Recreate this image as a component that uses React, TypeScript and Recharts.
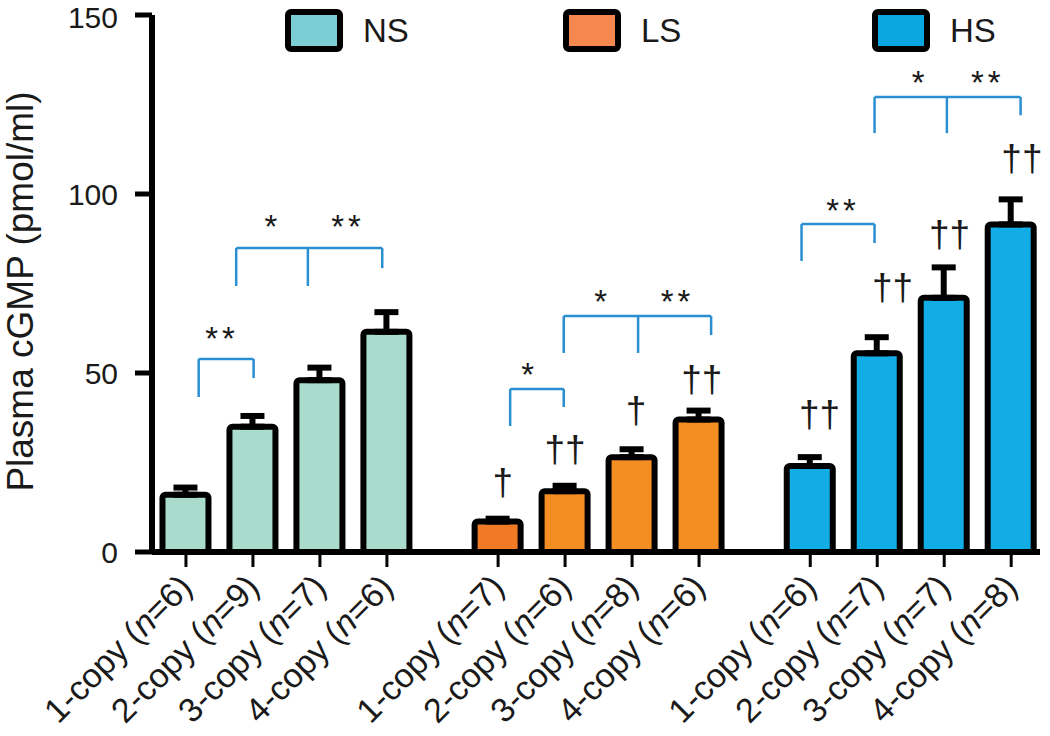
import React from 'react';
import { BarChart, Bar, XAxis, YAxis, ErrorBar, Cell, ReferenceLine, ReferenceDot } from 'recharts';

document.body.style.margin = '0';

const FONT = '"Liberation Sans", Arial, Helvetica, sans-serif';

const groups = ['NS', 'LS', 'HS'];
const copies = [1, 2, 3, 4];
const nsMeans = [16, 35, 48, 61.5];
const nsErrors = [2, 3, 3.5, 5.5];
const nsCounts = [6, 9, 7, 6];
const lsMeans = [8.5, 17, 26.5, 37];
const lsErrors = [0.8, 1.5, 2.2, 2.5];
const lsCounts = [7, 6, 8, 6];
const hsMeans = [24, 55.5, 71, 91.5];
const hsErrors = [2.5, 4.5, 8.5, 7];
const hsCounts = [6, 7, 7, 8];
const yTicks = [0, 50, 100, 150];

// significance brackets, in chart units (x = bar slot, y = pmol/ml)
const brackets = [
  { from: 0.19, to: 1.01, y: 53.9, leftEnd: 43.3, rightEnd: 48.6 },
  { from: 0.75, mid: 1.82, to: 2.93, y: 84.9, leftEnd: 74.3, rightEnd: 79.3 },
  { from: 4.84, to: 5.64, y: 45.5, leftEnd: 35.2, rightEnd: 40.5 },
  { from: 5.64, mid: 6.75, to: 7.84, y: 65.9, leftEnd: 55.6, rightEnd: 60.6 },
  { from: 9.19, to: 10.28, y: 91.6, leftEnd: 81.3, rightEnd: 86.3 },
  { from: 10.28, mid: 11.36, to: 12.46, y: 127.1, leftEnd: 117, rightEnd: 122 },
];
const stars = [
  { x: 0.54, y: 61.5, text: '**' },
  { x: 1.3, y: 92.7, text: '*' },
  { x: 2.42, y: 92.7, text: '**' },
  { x: 5.13, y: 51.4, text: '*' },
  { x: 6.22, y: 71.8, text: '*' },
  { x: 7.34, y: 71.8, text: '**' },
  { x: 9.81, y: 97.2, text: '**' },
  { x: 10.96, y: 133, text: '*' },
  { x: 11.97, y: 133, text: '**' },
];
const daggers = [
  { x: 4.73, y: 19.3, text: '†' },
  { x: 5.66, y: 28.5, text: '††' },
  { x: 6.72, y: 39.4, text: '†' },
  { x: 7.7, y: 48.3, text: '††' },
  { x: 9.46, y: 38.5, text: '††' },
  { x: 10.55, y: 74, text: '††' },
  { x: 11.4, y: 88.8, text: '††' },
  { x: 12.48, y: 109.8, text: '††' },
];

const GROUP_GAP = 0.66;
const barColors = [
  ['#a9dccd', '#a9dccd', '#a9dccd', '#a9dccd'],
  ['#f07a26', '#f58e22', '#f58e22', '#f58e22'],
  ['#12ade4', '#12ade4', '#12ade4', '#12ade4'],
];
const legendColors = ['#7bcdd6', '#f5874f', '#0aa6e2'];
const legendLeft = [285, 563, 872];
const bracketColor = '#2a8fd0';

const means = [nsMeans, lsMeans, hsMeans];
const errors = [nsErrors, lsErrors, hsErrors];
const counts = [nsCounts, lsCounts, hsCounts];

const rows = groups.flatMap((g, gi) =>
  copies.map((c, i) => ({
    pos: gi * (copies.length + GROUP_GAP) + i,
    group: g,
    copies: c,
    n: counts[gi][i],
    mean: means[gi][i],
    err: [0, errors[gi][i]],
    color: barColors[gi][i],
  }))
);

function CopyTick({ x, y, payload }: any) {
  const row = rows.find(r => Math.abs(r.pos - payload.value) < 0.01);
  if (!row) return null;
  return (
    <g transform={`translate(${x + 8},${y + 20}) rotate(-45)`}>
      <text x={0} y={0} textAnchor="end" fontSize={34} fontFamily={FONT} fill="#1a1a1a">
        {row.copies}-copy (<tspan fontStyle="italic">n</tspan>={row.n})
      </text>
    </g>
  );
}

function AxisTitle({ viewBox }: any) {
  const cy = viewBox.y + viewBox.height / 2 + 8;
  return (
    <text
      x={33}
      y={cy}
      transform={`rotate(-90, 33, ${cy})`}
      textAnchor="middle"
      fontSize={37}
      fontFamily={FONT}
      fill="#1a1a1a"
    >
      Plasma cGMP (pmol/ml)
    </text>
  );
}

function Legendish() {
  return (
    <>
      {groups.map((g, i) => (
        <div
          key={g}
          style={{ position: 'absolute', left: legendLeft[i], top: 9, display: 'flex', alignItems: 'center' }}
        >
          <div
            style={{
              width: 46,
              height: 31,
              border: '6px solid #000',
              borderRadius: 6,
              background: legendColors[i],
            }}
          />
          <span style={{ marginLeft: 20, fontSize: 33, fontFamily: FONT, color: '#1a1a1a' }}>{g}</span>
        </div>
      ))}
    </>
  );
}

export default function App() {
  return (
    <div style={{ position: 'relative', width: 1050, height: 736, background: '#fff' }}>
      <BarChart width={1050} height={736} data={rows} margin={{ top: 15, right: 10, bottom: 0, left: 0 }}>
        <XAxis
          dataKey="pos"
          type="number"
          domain={[-0.507, 12.75]}
          allowDataOverflow
          ticks={rows.map(r => r.pos)}
          interval={0}
          height={184}
          tick={<CopyTick />}
          tickSize={15}
          axisLine={{ stroke: '#000', strokeWidth: 6 }}
          tickLine={{ stroke: '#000', strokeWidth: 3 }}
        />
        <YAxis
          domain={[0, 150]}
          ticks={yTicks}
          width={152}
          tickSize={17}
          tickMargin={17}
          tick={{ fontSize: 30, fill: '#1a1a1a', fontFamily: FONT }}
          axisLine={{ stroke: '#000', strokeWidth: 6 }}
          tickLine={{ stroke: '#000', strokeWidth: 5 }}
          label={<AxisTitle />}
        />
        <Bar dataKey="mean" barSize={46} stroke="#000" strokeWidth={6} radius={3} isAnimationActive={false}>
          {rows.map(r => (
            <Cell key={r.pos} fill={r.color} />
          ))}
          <ErrorBar dataKey="err" direction="y" width={12} strokeWidth={6} stroke="#000" isAnimationActive={false} />
        </Bar>
        {brackets.flatMap((b, i) => {
          const segs = [
            [{ x: b.from, y: b.y }, { x: b.to, y: b.y }],
            [{ x: b.from, y: b.y }, { x: b.from, y: b.leftEnd }],
            [{ x: b.to, y: b.y }, { x: b.to, y: b.rightEnd }],
          ];
          if (b.mid !== undefined) segs.push([{ x: b.mid, y: b.y }, { x: b.mid, y: b.leftEnd }]);
          return segs.map((s, j) => (
            <ReferenceLine
              key={`b${i}-${j}`}
              segment={s as any}
              stroke={bracketColor}
              strokeWidth={2.5}
              ifOverflow="visible"
            />
          ));
        })}
        {stars.map((s, i) => (
          <ReferenceDot
            key={`s${i}`}
            x={s.x}
            y={s.y}
            r={0}
            ifOverflow="visible"
            shape={(p: any) => (
              <text
                x={p.cx}
                y={p.cy + 18}
                textAnchor="middle"
                fontSize={33}
                letterSpacing={4}
                fontFamily={FONT}
                fill="#1a1a1a"
              >
                {s.text}
              </text>
            )}
          />
        ))}
        {daggers.map((d, i) => (
          <ReferenceDot
            key={`d${i}`}
            x={d.x}
            y={d.y}
            r={0}
            ifOverflow="visible"
            shape={(p: any) => (
              <text
                x={p.cx}
                y={p.cy}
                dominantBaseline="central"
                textAnchor="middle"
                fontSize={37}
                fontFamily={FONT}
                fill="#1a1a1a"
              >
                {d.text}
              </text>
            )}
          />
        ))}
      </BarChart>
      <Legendish />
    </div>
  );
}
